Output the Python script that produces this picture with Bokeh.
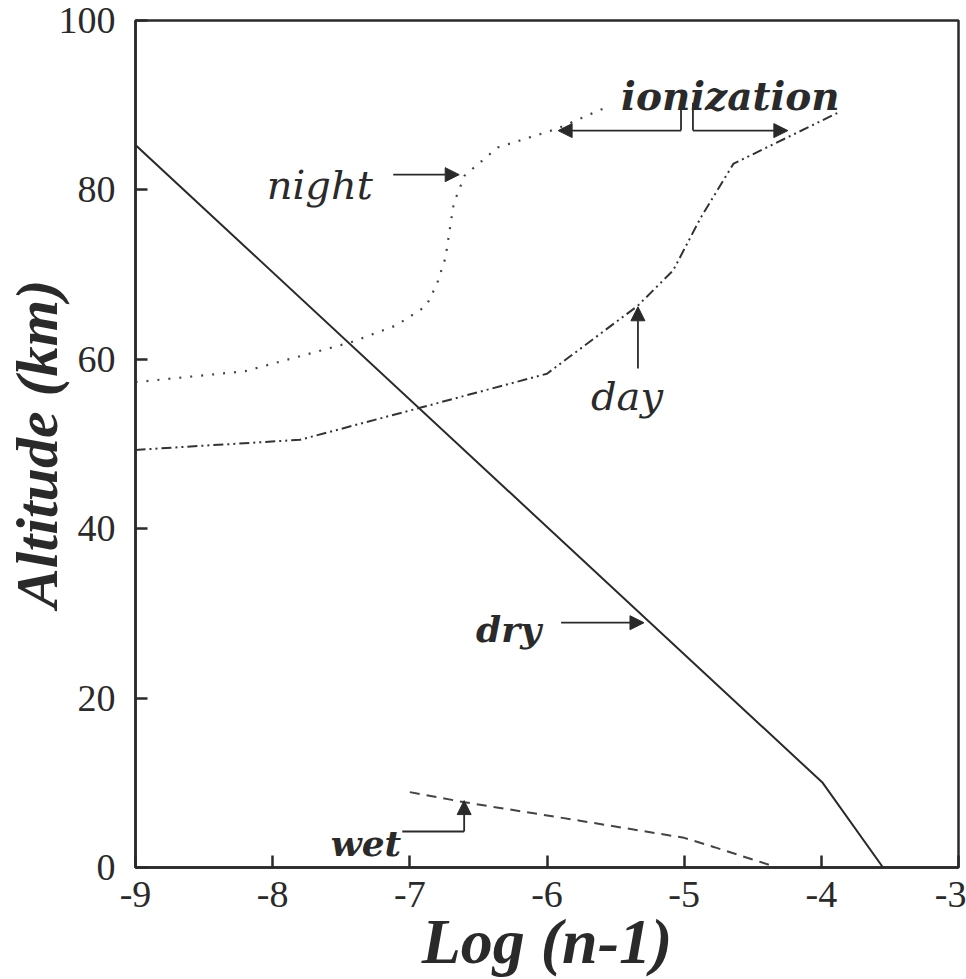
from bokeh.plotting import figure
from bokeh.models import Arrow, NormalHead, Label, FixedTicker
from bokeh.embed import file_html
from bokeh.resources import INLINE

# ---- data ----
x_ticks = [-9, -8, -7, -6, -5, -4, -3]
x_tick_labels = ["-9", "-8", "-7", "-6", "-5", "-4", "-3"]
y_ticks = [0, 20, 40, 60, 80, 100]
y_tick_labels = ["0", "20", "40", "60", "80", "100"]

dry_x = [-9.0, -3.99, -3.55]
dry_y = [85.3, 10.0, 0.0]

night_x = [-9.0, -8.2, -7.43, -7.1, -6.88, -6.8, -6.74, -6.71, -6.68, -6.6, -6.36, -5.93, -5.59]
night_y = [57.3, 58.6, 62.0, 64.0, 66.3, 69.0, 72.0, 75.2, 78.4, 81.7, 85.0, 87.2, 89.6]

day_x = [-9.0, -7.8, -6.92, -6.0, -5.34, -5.08, -4.88, -4.64, -3.88]
day_y = [49.3, 50.5, 54.3, 58.3, 66.3, 70.5, 76.7, 83.1, 89.1]

wet_x = [-7.0, -6.6, -5.75, -5.0, -4.78, -4.32]
wet_y = [8.9, 7.7, 5.5, 3.5, 2.4, 0.0]

INK = "#2a2a2a"
SERIF = "Liberation Serif"
SERIF2 = "DejaVu Serif"

p = figure(width=966, height=979, x_range=(-9, -3), y_range=(0, 100),
           output_backend="svg", toolbar_location=None,
           min_border_left=134, min_border_right=8, min_border_top=20, min_border_bottom=112)
p.background_fill_color = "white"
p.border_fill_color = "white"
p.grid.visible = False
p.outline_line_color = INK
p.outline_line_width = 2.5

for ax in (p.xaxis[0], p.yaxis[0]):
    ax.axis_line_width = 2.5
    ax.axis_line_color = INK
    ax.major_tick_in = 12
    ax.major_tick_out = 0
    ax.major_tick_line_width = 2.5
    ax.major_tick_line_color = INK
    ax.minor_tick_line_color = None
    ax.major_label_text_font = SERIF
    ax.major_label_text_font_size = "38px"
    ax.major_label_text_color = INK
    ax.major_label_text_font_style = "normal"
    ax.axis_label_text_font = SERIF
    ax.axis_label_text_font_style = "bold italic"
    ax.axis_label_text_color = INK

p.xaxis[0].ticker = FixedTicker(ticks=x_ticks)
p.yaxis[0].ticker = FixedTicker(ticks=y_ticks)
p.xaxis[0].major_label_overrides = {t: s for t, s in zip(x_ticks, x_tick_labels)}
p.yaxis[0].major_label_overrides = {t: s for t, s in zip(y_ticks, y_tick_labels)}
p.xaxis[0].major_label_standoff = 14
p.yaxis[0].major_label_standoff = 20
p.yaxis[0].major_label_text_align = "center"

p.xaxis[0].axis_label = "Log (n-1)"
p.xaxis[0].axis_label_text_font_size = "64px"
p.xaxis[0].axis_label_standoff = -4
p.yaxis[0].axis_label = "Altitude (km)"
p.yaxis[0].axis_label_text_font_size = "60px"
p.yaxis[0].axis_label_standoff = -14

# ---- curves ----
p.line(dry_x, dry_y, line_color=INK, line_width=2)
p.line(night_x, night_y, line_color="#444444", line_width=2.2, line_dash="2 9")
p.line(day_x, day_y, line_color="#333333", line_width=2, line_dash="10 4 2 4 2 4")
p.line(wet_x, wet_y, line_color="#444444", line_width=2, line_dash="10 7")

# ---- annotations ----
def arrow(x0, y0, x1, y1):
    p.add_layout(Arrow(x_start=x0, y_start=y0, x_end=x1, y_end=y1,
                       line_color=INK, line_width=1.8,
                       end=NormalHead(size=14, fill_color=INK, line_color=INK, line_width=1)))

def seg(x0, y0, x1, y1):
    p.segment(x0=[x0], y0=[y0], x1=[x1], y1=[y1], line_color=INK, line_width=1.8)

# ionization bracket
seg(-5.023, 90.3, -5.023, 87.0)
arrow(-5.023, 87.0, -5.919, 87.0)
seg(-4.936, 90.3, -4.936, 87.0)
arrow(-4.936, 87.0, -4.244, 87.0)
# night
arrow(-7.121, 81.8, -6.640, 81.8)
# day
arrow(-5.337, 58.9, -5.337, 66.2)
# dry
arrow(-5.897, 28.9, -5.293, 28.9)
# wet
seg(-7.055, 4.25, -6.604, 4.25)
arrow(-6.604, 4.25, -6.604, 7.9)

def label(x, y, text, font, size, style, align="left", baseline="alphabetic"):
    p.add_layout(Label(x=x, y=y, text=text, text_font=font, text_font_size=size,
                       text_font_style=style, text_align=align, text_baseline=baseline,
                       text_color=INK))

label(-7.27, 80.6, "night", SERIF2, "40px", "italic", align="right")
label(-5.417, 55.7, "day", SERIF2, "40px", "italic", align="center")
label(-4.663, 91.1, "ionization", SERIF2, "39px", "bold italic", align="center")
label(-6.043, 28.2, "dry", SERIF2, "36px", "bold italic", align="right")
label(-7.063, 2.95, "wet", SERIF2, "36px", "bold italic", align="right")

open("out.html", "w").write(file_html(p, INLINE))
